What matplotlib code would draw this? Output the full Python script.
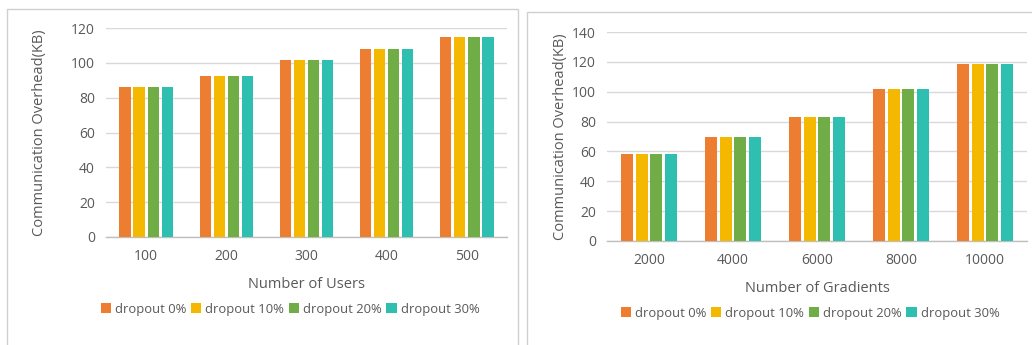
import matplotlib
matplotlib.use("Agg")
import matplotlib.pyplot as plt
from matplotlib.patches import Rectangle
import numpy as np

plt.rcParams['font.family'] = ['Open Sans', 'DejaVu Sans']

series_names = ["dropout 0%", "dropout 10%", "dropout 20%", "dropout 30%"]
colors = ["#ED7D31", "#F5B800", "#70AD47", "#2EBFB1"]

users = ["100", "200", "300", "400", "500"]
users_overhead = [86.4, 92.3, 101.5, 108.2, 114.8]

gradients = ["2000", "4000", "6000", "8000", "10000"]
gradients_overhead = [58.5, 70.0, 83.3, 101.6, 118.8]

W, H = 1032, 345
fig = plt.figure(figsize=(W / 100, H / 100), dpi=100)
fig.patch.set_facecolor("white")

text_color = "#595959"
grid_color = "#D9D9D9"


def px_axes(x0, y0, x1, y1):
    return fig.add_axes([x0 / W, 1 - y1 / H, (x1 - x0) / W, (y1 - y0) / H])


def draw_panel(ax, cats, vals, ymax, xlabel, slot, bw, ylabelpad, leg_center, leg_y):
    n = len(series_names)
    x = np.arange(len(cats))
    for i, (name, c) in enumerate(zip(series_names, colors)):
        offs = (i - (n - 1) / 2) * slot
        ax.bar(x + offs, vals, width=bw, color=c, label=name, zorder=3)
    ax.set_xlim(-0.5, len(cats) - 0.5)
    ax.set_ylim(0, ymax)
    ax.set_yticks(np.arange(0, ymax + 1, 20))
    ax.set_xticks(x)
    ax.set_xticklabels(cats)
    ax.yaxis.grid(True, color=grid_color, linewidth=1.0, zorder=0)
    ax.set_axisbelow(True)
    for s in ["top", "right", "left"]:
        ax.spines[s].set_visible(False)
    ax.spines["bottom"].set_color("#BFBFBF")
    ax.spines["bottom"].set_linewidth(1.0)
    ax.tick_params(length=0, colors=text_color, labelsize=10)
    ax.tick_params(axis="x", pad=9)
    ax.tick_params(axis="y", pad=8)
    ax.set_xlabel(xlabel, color=text_color, fontsize=10.5, labelpad=9)
    ax.set_ylabel("Communication Overhead(KB)", color=text_color, fontsize=10.5,
                  labelpad=ylabelpad)
    leg = ax.legend(ncol=4, loc="center", bbox_to_anchor=(leg_center / W, 1 - leg_y / H),
                    bbox_transform=fig.transFigure, frameon=False, fontsize=9.4,
                    handlelength=0.8, handleheight=0.8, handletextpad=0.3,
                    columnspacing=0.35, borderaxespad=0)
    for t in leg.get_texts():
        t.set_color(text_color)


ax1 = px_axes(106, 28, 507, 237)
draw_panel(ax1, users, users_overhead, 120, "Number of Users",
           slot=0.175, bw=0.14, ylabelpad=17, leg_center=290, leg_y=309)

ax2 = px_axes(607, 32, 1027, 241)
draw_panel(ax2, gradients, gradients_overhead, 140, "Number of Gradients",
           slot=0.175, bw=0.14, ylabelpad=3, leg_center=810, leg_y=313)

# light frames around the two panels
frame_kw = dict(fill=False, edgecolor="#D0D0D0", linewidth=1.0,
                transform=fig.transFigure, figure=fig)
fig.patches.append(Rectangle((7 / W, -0.05), (518 - 7) / W, 1.05 - 9 / H, **frame_kw))
fig.patches.append(Rectangle((527 / W, -0.05), (1040 - 527) / W, 1.05 - 12 / H, **frame_kw))

fig.savefig("out.png", dpi=100, facecolor="white")
